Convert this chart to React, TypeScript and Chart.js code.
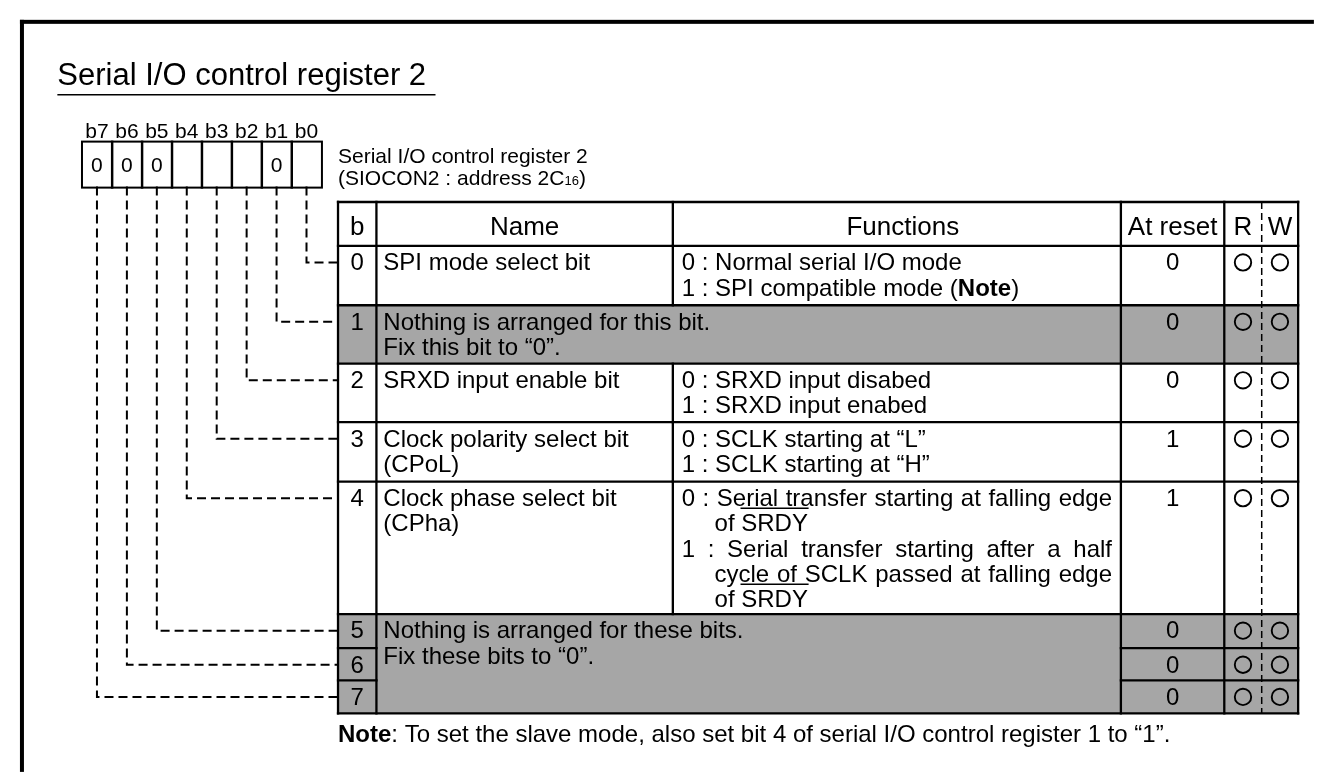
import React, { useEffect, useRef } from "react";
import { Chart, registerables } from "chart.js";

Chart.register(...registerables);

// ---------------- DATA ----------------
const TITLE = "Serial I/O control register 2";
const REGISTER_NAME = "Serial I/O control register 2";
const REGISTER_ADDR = "(SIOCON2 : address 2C_{16})";
const BIT_LABELS = ["b7", "b6", "b5", "b4", "b3", "b2", "b1", "b0"];
const BIT_BOX_VALUES = ["0", "0", "0", "", "", "", "0", ""];
const HEADERS = ["b", "Name", "Functions", "At reset", "R", "W"];
const BIT_NUMBERS = ["0", "1", "2", "3", "4", "5", "6", "7"];
const BIT_NAMES: string[][] = [
  ["SPI mode select bit"],
  [],
  ["SRXD input enable bit"],
  ["Clock polarity select bit", "(CPoL)"],
  ["Clock phase select bit", "(CPha)"],
  [],
  [],
  [],
];
const BIT_FUNCTIONS: string[][] = [
  ["0 : Normal serial I/O mode", "1 : SPI compatible mode (**Note**)"],
  [],
  ["0 : SRXD input disabed", "1 : SRXD input enabed"],
  ["0 : SCLK starting at \u201CL\u201D", "1 : SCLK starting at \u201CH\u201D"],
  [
    "0 : Serial transfer starting at falling edge",
    "of ~SRDY~",
    "1 : Serial transfer starting after a half",
    "cycle of SCLK passed at falling edge",
    "of ~SRDY~",
  ],
  [],
  [],
  [],
];
const RESERVED_BITS_A = [1];
const RESERVED_TEXT_A = ["Nothing is arranged for this bit.", "Fix this bit to \u201C0\u201D."];
const RESERVED_BITS_B = [5, 6, 7];
const RESERVED_TEXT_B = ["Nothing is arranged for these bits.", "Fix these bits to \u201C0\u201D."];
const RESET_VALUES = ["0", "0", "0", "1", "1", "0", "0", "0"];
const READABLE = [true, true, true, true, true, true, true, true];
const WRITABLE = [true, true, true, true, true, true, true, true];
const NOTE_TEXT = "**Note**: To set the slave mode, also set bit 4 of serial I/O control register 1 to \u201C1\u201D.";

// ---------------- LAYOUT ----------------
const W = 1324;
const H = 782;
const FONT = '"Liberation Sans", Arial, Helvetica, sans-serif';
const GRAY = "#a6a6a6";
const FRAME = { x: 10, y: 10, t: 4 };
const TITLE_POS = { x: 48, y: 77, size: 31, ulY: 87, ulX2: 432 };
const BOX = { left: 73, top: 135, cellW: 30.4, h: 46, labelY: 131, valueY: 166, size: 21 };
const REG_TEXT = { x: 333, y1: 157, y2: 180, size: 21 };
const COLS = [333, 372, 673, 1128, 1233, 1271, 1308];
const ROWS = [197, 242, 303, 363, 423, 484, 620, 655, 688, 722];
const BODY = 24;
const HEAD = 26;
const HEAD_Y = 231;
const FIRST_BASE = 25;
const LINE_H = 26;
const PAD_L = 7;
const PAD_FN = 9;
const PAD_R = 9;
const NOTE_POS = { x: 333, y: 751 };
const CIRCLE_R = 8.2;

function fnt(size: number, bold = false) {
  return `${bold ? "bold " : ""}${size}px ${FONT}`;
}

type Seg = { t: string; bold?: boolean; over?: boolean; sub?: boolean };
function parse(s: string): Seg[] {
  const segs: Seg[] = [];
  const re = /\*\*(.+?)\*\*|~(.+?)~|_\{(.+?)\}/g;
  let last = 0;
  let m: RegExpExecArray | null;
  while ((m = re.exec(s))) {
    if (m.index > last) segs.push({ t: s.slice(last, m.index) });
    if (m[1]) segs.push({ t: m[1], bold: true });
    else if (m[2]) segs.push({ t: m[2], over: true });
    else segs.push({ t: m[3], sub: true });
    last = re.lastIndex;
  }
  if (last < s.length) segs.push({ t: s.slice(last) });
  return segs;
}

function segFont(s: Seg, size: number) {
  return fnt(s.sub ? Math.round(size * 0.62) : size, !!s.bold);
}

function drawRich(ctx: CanvasRenderingContext2D, s: string, x: number, y: number, size: number, align: "left" | "center" = "left") {
  const segs = parse(s);
  const widths = segs.map((sg) => {
    ctx.font = segFont(sg, size);
    return ctx.measureText(sg.t).width;
  });
  const total = widths.reduce((a, b) => a + b, 0);
  let cx = align === "center" ? x - total / 2 : x;
  ctx.textAlign = "left";
  ctx.textBaseline = "alphabetic";
  segs.forEach((sg, i) => {
    ctx.font = segFont(sg, size);
    ctx.fillText(sg.t, cx, y);
    if (sg.over) {
      ctx.save();
      ctx.lineWidth = 1.4;
      ctx.beginPath();
      ctx.moveTo(cx, y - 23);
      ctx.lineTo(cx + widths[i], y - 23);
      ctx.stroke();
      ctx.restore();
    }
    cx += widths[i];
  });
}

function drawJustified(ctx: CanvasRenderingContext2D, s: string, x0: number, x1: number, y: number, size: number) {
  const words = s.split(" ");
  ctx.font = fnt(size);
  ctx.textAlign = "left";
  const ws = words.map((w) => ctx.measureText(w).width);
  const sum = ws.reduce((a, b) => a + b, 0);
  const gap = words.length > 1 ? (x1 - x0 - sum) / (words.length - 1) : 0;
  let cx = x0;
  words.forEach((w, i) => {
    ctx.fillText(w, cx, y);
    cx += ws[i] + gap;
  });
}

function isItem(line: string) {
  return /^[01] : /.test(line);
}

const tablePlugin = {
  id: "registerTable",
  beforeDraw(chart: any) {
    const ctx = chart.ctx as CanvasRenderingContext2D;
    ctx.save();
    ctx.fillStyle = "#fff";
    ctx.fillRect(0, 0, chart.width, chart.height);
    ctx.restore();
  },
  beforeDatasetsDraw(chart: any) {
    const ctx = chart.ctx as CanvasRenderingContext2D;
    const xs = chart.scales.x;
    const ys = chart.scales.y;
    const px = (v: number) => xs.getPixelForValue(v);
    const py = (v: number) => ys.getPixelForValue(v);
    ctx.save();
    ctx.fillStyle = "#000";
    ctx.strokeStyle = "#000";

    // Frame
    ctx.fillRect(px(FRAME.x), py(FRAME.y), px(W) - px(FRAME.x), FRAME.t);
    ctx.fillRect(px(FRAME.x), py(FRAME.y), FRAME.t, py(H) - py(FRAME.y));

    // Title
    ctx.font = fnt(TITLE_POS.size);
    ctx.textAlign = "left";
    ctx.fillText(TITLE, px(TITLE_POS.x), py(TITLE_POS.y));
    ctx.lineWidth = 1.5;
    ctx.beginPath();
    ctx.moveTo(px(TITLE_POS.x), py(TITLE_POS.ulY));
    ctx.lineTo(px(TITLE_POS.ulX2), py(TITLE_POS.ulY));
    ctx.stroke();

    // Bit boxes
    ctx.lineWidth = 2;
    BIT_LABELS.forEach((lab, i) => {
      const cx = BOX.left + BOX.cellW * (i + 0.5);
      ctx.font = fnt(BOX.size);
      ctx.textAlign = "center";
      ctx.fillText(lab, px(cx), py(BOX.labelY));
      ctx.strokeRect(px(BOX.left + BOX.cellW * i), py(BOX.top), BOX.cellW, BOX.h);
      if (BIT_BOX_VALUES[i]) ctx.fillText(BIT_BOX_VALUES[i], px(cx), py(BOX.valueY));
    });

    // Register name text
    ctx.textAlign = "left";
    drawRich(ctx, REGISTER_NAME, px(REG_TEXT.x), py(REG_TEXT.y1), REG_TEXT.size);
    drawRich(ctx, REGISTER_ADDR, px(REG_TEXT.x), py(REG_TEXT.y2), REG_TEXT.size);

    const rowTop = (i: number) => ROWS[i + 1];
    const rowBot = (i: number) => ROWS[i + 2];

    // Gray fills
    ctx.fillStyle = GRAY;
    [RESERVED_BITS_A, RESERVED_BITS_B].forEach((g) => {
      const t = rowTop(g[0]);
      const b = rowBot(g[g.length - 1]);
      ctx.fillRect(px(COLS[0]), py(t), px(COLS[6]) - px(COLS[0]), py(b) - py(t));
    });
    ctx.fillStyle = "#000";

    // Table lines
    ctx.lineWidth = 2.3;
    ctx.lineCap = "square";
    const hline = (y: number, x1: number, x2: number) => {
      ctx.beginPath();
      ctx.moveTo(px(x1), py(y));
      ctx.lineTo(px(x2), py(y));
      ctx.stroke();
    };
    const vline = (x: number, y1: number, y2: number) => {
      ctx.beginPath();
      ctx.moveTo(px(x), py(y1));
      ctx.lineTo(px(x), py(y2));
      ctx.stroke();
    };
    const inGroupB = (i: number) => RESERVED_BITS_B.indexOf(i) > 0;
    ROWS.forEach((y, k) => {
      const bit = k - 1;
      if (bit >= 0 && bit < 8 && inGroupB(bit)) {
        hline(y, COLS[0], COLS[1]);
        hline(y, COLS[3], COLS[6]);
      } else {
        hline(y, COLS[0], COLS[6]);
      }
    });
    vline(COLS[0], ROWS[0], ROWS[ROWS.length - 1]);
    vline(COLS[1], ROWS[0], ROWS[ROWS.length - 1]);
    vline(COLS[3], ROWS[0], ROWS[ROWS.length - 1]);
    vline(COLS[4], ROWS[0], ROWS[ROWS.length - 1]);
    vline(COLS[6], ROWS[0], ROWS[ROWS.length - 1]);
    vline(COLS[2], ROWS[0], ROWS[1]);
    BIT_NAMES.forEach((n, i) => {
      if (n.length) vline(COLS[2], rowTop(i), rowBot(i));
    });
    ctx.save();
    ctx.lineWidth = 1.5;
    ctx.lineCap = "butt";
    ctx.setLineDash([7, 4]);
    vline(COLS[5], ROWS[0], ROWS[ROWS.length - 1]);
    ctx.restore();

    // Header texts
    ctx.fillStyle = "#000";
    ctx.font = fnt(HEAD);
    ctx.textAlign = "center";
    const hdrCenters = [
      (COLS[0] + COLS[1]) / 2,
      (COLS[1] + COLS[2]) / 2,
      (COLS[2] + COLS[3]) / 2,
      (COLS[3] + COLS[4]) / 2,
      (COLS[4] + COLS[5]) / 2,
      (COLS[5] + COLS[6]) / 2,
    ];
    HEADERS.forEach((h, i) => ctx.fillText(h, px(hdrCenters[i] + (i === 2 ? 6 : 0)), py(HEAD_Y)));

    // Rows
    BIT_NUMBERS.forEach((num, i) => {
      const base = rowTop(i) + FIRST_BASE;
      ctx.font = fnt(BODY);
      ctx.textAlign = "center";
      ctx.fillText(num, px(hdrCenters[0]), py(base));
      ctx.fillText(RESET_VALUES[i], px(hdrCenters[3]), py(base));
      ctx.textAlign = "left";
      BIT_NAMES[i].forEach((ln, j) => {
        drawRich(ctx, ln, px(COLS[1] + PAD_L), py(base + j * LINE_H), BODY);
      });
      const fl = BIT_FUNCTIONS[i];
      ctx.font = fnt(BODY);
      const indent = ctx.measureText("0 : ").width;
      fl.forEach((ln, j) => {
        const y = base + j * LINE_H;
        const item = isItem(ln);
        const x0 = COLS[2] + PAD_FN + (item ? 0 : indent);
        const next = fl[j + 1];
        const justify = next !== undefined && !isItem(next) && ln.indexOf("*") < 0 && ln.indexOf("~") < 0;
        if (justify) drawJustified(ctx, ln, px(x0), px(COLS[3] - PAD_R), py(y), BODY);
        else drawRich(ctx, ln, px(x0), py(y), BODY);
      });
    });

    // Reserved texts
    [
      [RESERVED_BITS_A, RESERVED_TEXT_A],
      [RESERVED_BITS_B, RESERVED_TEXT_B],
    ].forEach(([bits, lines]: any) => {
      const base = rowTop(bits[0]) + FIRST_BASE;
      (lines as string[]).forEach((ln, j) => {
        drawRich(ctx, ln, px(COLS[1] + PAD_L), py(base + j * LINE_H), BODY);
      });
    });

    // Dashed connectors
    ctx.save();
    ctx.lineWidth = 2;
    ctx.lineCap = "butt";
    ctx.setLineDash([9, 5]);
    BIT_NUMBERS.forEach((_, i) => {
      const cellIdx = 7 - i;
      const cx = BOX.left + BOX.cellW * (cellIdx + 0.5);
      const cy = rowTop(i) + FIRST_BASE - 8;
      ctx.beginPath();
      ctx.moveTo(px(cx), py(BOX.top + BOX.h));
      ctx.lineTo(px(cx), py(cy));
      ctx.lineTo(px(COLS[0]), py(cy));
      ctx.stroke();
    });
    ctx.restore();

    // Note
    drawRich(ctx, NOTE_TEXT, px(NOTE_POS.x), py(NOTE_POS.y), BODY);

    ctx.restore();
  },
};

export default function App() {
  const ref = useRef<HTMLCanvasElement | null>(null);
  useEffect(() => {
    document.body.style.margin = "0";
    document.body.style.overflow = "hidden";
    const canvas = ref.current;
    if (!canvas) return;
    const rCenter = (COLS[4] + COLS[5]) / 2;
    const wCenter = (COLS[5] + COLS[6]) / 2;
    const points: { x: number; y: number }[] = [];
    BIT_NUMBERS.forEach((_, i) => {
      const y = ROWS[i + 1] + FIRST_BASE - 8;
      if (READABLE[i]) points.push({ x: rCenter, y });
      if (WRITABLE[i]) points.push({ x: wCenter, y });
    });
    const chart = new Chart(canvas, {
      type: "scatter",
      data: {
        datasets: [
          {
            data: points,
            pointStyle: "circle",
            pointRadius: CIRCLE_R,
            pointBorderWidth: 1.9,
            pointBorderColor: "#000",
            pointBackgroundColor: "rgba(0,0,0,0)",
            showLine: false,
          } as any,
        ],
      },
      options: {
        animation: false,
        responsive: false,
        maintainAspectRatio: false,
        devicePixelRatio: 1,
        events: [],
        layout: { padding: 0 },
        plugins: {
          legend: { display: false },
          tooltip: { enabled: false },
          title: { display: false },
        },
        scales: {
          x: { type: "linear", min: 0, max: W, display: false },
          y: { type: "linear", min: 0, max: H, reverse: true, display: false },
        },
      } as any,
      plugins: [tablePlugin],
    });
    return () => chart.destroy();
  }, []);
  return (
    <div style={{ position: "fixed", left: 0, top: 0, width: W, height: H, background: "#fff" }}>
      <canvas ref={ref} width={W} height={H} style={{ display: "block", width: W, height: H }} />
    </div>
  );
}
